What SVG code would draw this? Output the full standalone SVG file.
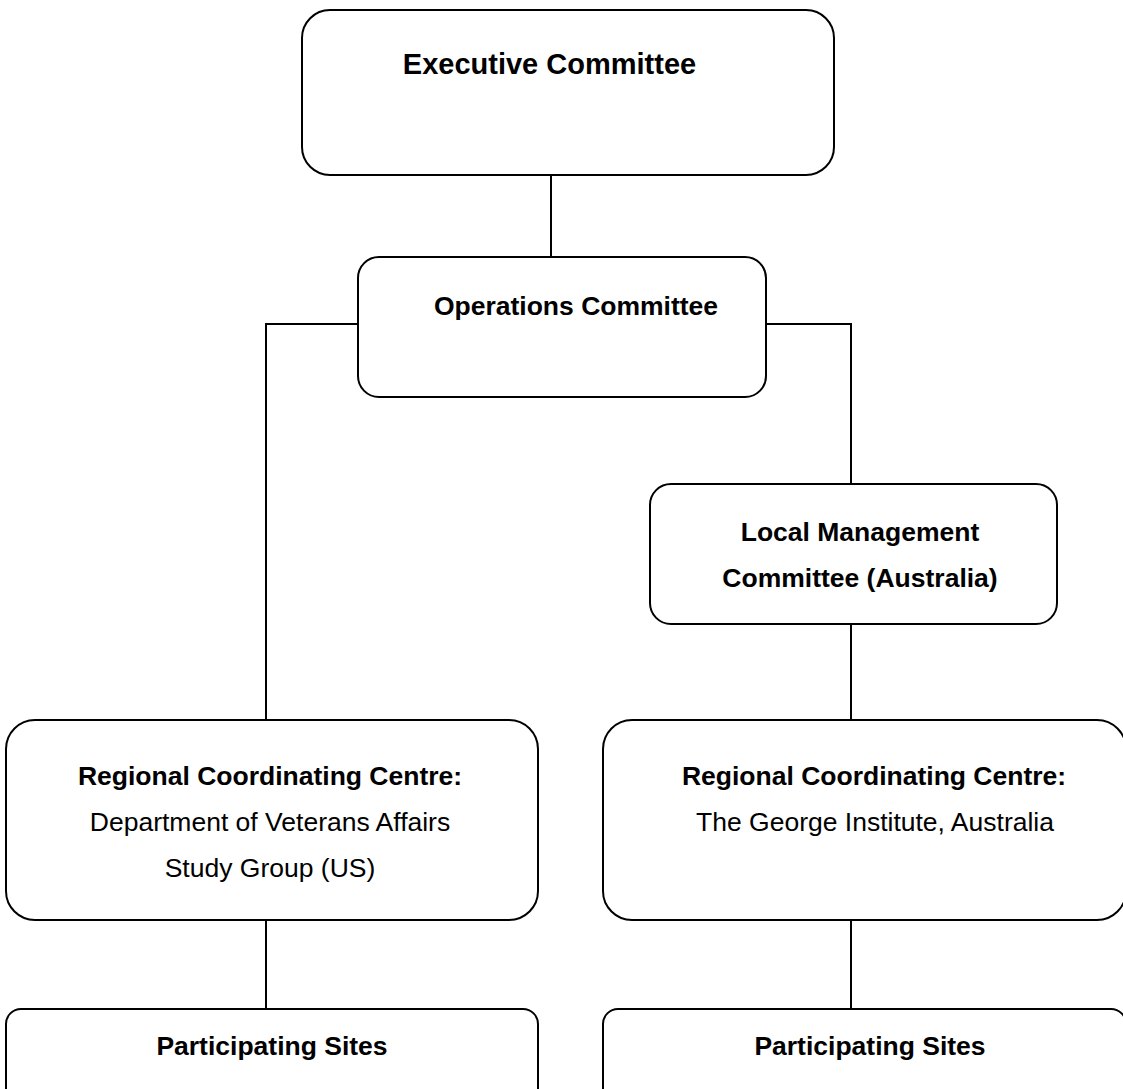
<svg xmlns="http://www.w3.org/2000/svg" width="1123" height="1089" viewBox="0 0 1123 1089">
<style>
.box{fill:#fff;stroke:#000;stroke-width:2}
.conn{fill:none;stroke:#000;stroke-width:2}
text{font-family:"Liberation Sans",Arial,sans-serif;font-size:26.5px;fill:#000;text-anchor:middle}
.b{font-weight:bold}
</style>
<rect width="1123" height="1089" fill="#fff"/>
<g id="connectors">
<path class="conn" d="M551 175 V257"/>
<path class="conn" d="M358 324 H266 V720"/>
<path class="conn" d="M766 324 H851 V484"/>
<path class="conn" d="M851 624 V720"/>
<path class="conn" d="M266 920 V1009"/>
<path class="conn" d="M851 920 V1009"/>
</g>
<g id="executive">
<rect class="box" x="302" y="10" width="532" height="165" rx="28"/>
<text class="b" x="549.5" y="74" style="font-size:29px">Executive Committee</text>
</g>
<g id="operations">
<rect class="box" x="358" y="257" width="408" height="140" rx="21"/>
<text class="b" x="576" y="315">Operations Committee</text>
</g>
<g id="local">
<rect class="box" x="650" y="484" width="407" height="140" rx="21"/>
<text class="b" x="860" y="541">Local Management</text>
<text class="b" x="860" y="587">Committee (Australia)</text>
</g>
<g id="regional-us">
<rect class="box" x="6" y="720" width="532" height="200" rx="29"/>
<text class="b" x="270" y="785">Regional Coordinating Centre:</text>
<text x="270" y="831">Department of Veterans Affairs</text>
<text x="270" y="877">Study Group (US)</text>
</g>
<g id="regional-au">
<rect class="box" x="603" y="720" width="523" height="200" rx="29"/>
<text class="b" x="874" y="785">Regional Coordinating Centre:</text>
<text x="875" y="831">The George Institute, Australia</text>
</g>
<g id="sites-us">
<rect class="box" x="6" y="1009" width="532" height="110" rx="15"/>
<text class="b" x="272" y="1055">Participating Sites</text>
</g>
<g id="sites-au">
<rect class="box" x="603" y="1009" width="523" height="110" rx="15"/>
<text class="b" x="870" y="1055">Participating Sites</text>
</g>
</svg>
